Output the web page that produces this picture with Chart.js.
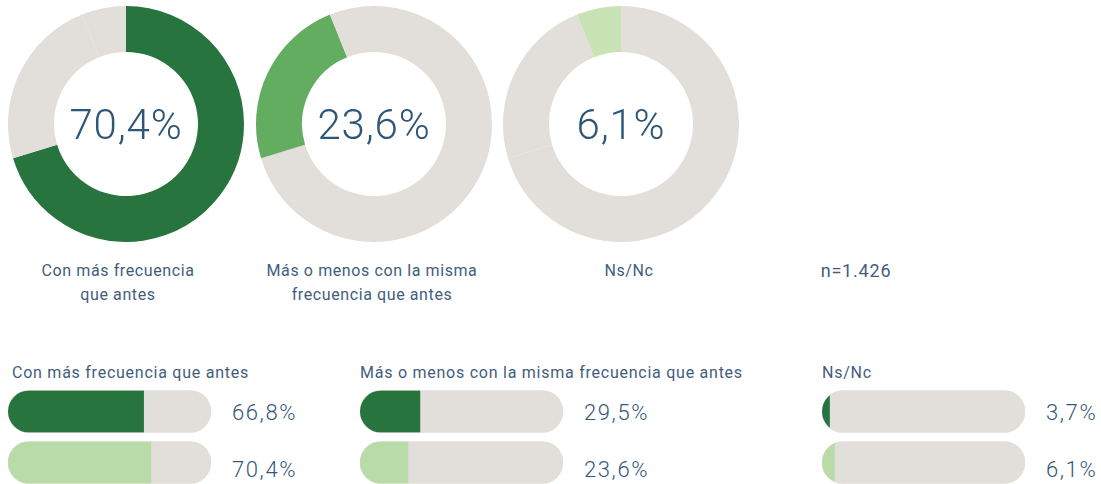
<!DOCTYPE html>
<html lang="es">
<head>
<meta charset="utf-8">
<title>Frecuencia</title>
<script src="https://cdn.jsdelivr.net/npm/chart.js@4/dist/chart.umd.min.js"></script>
<style>
  html, body { margin: 0; padding: 0; background: #fff; }
  body { position: relative; width: 1101px; height: 484px; overflow: hidden;
         font-family: Roboto, "Noto Sans", sans-serif; color: #3f5e7e; }
  .donut { position: absolute; top: 6px; width: 236px; height: 236px; }
  .center { position: absolute; width: 200px; text-align: center; font-size: 42px;
            line-height: 42px; font-weight: 300; color: #2d5679; top: 104px; letter-spacing: 0.8px; }
  .caption { position: absolute; width: 260px; text-align: center; font-size: 16px;
             line-height: 24px; top: 259px; letter-spacing: 0.6px; }
  .title { position: absolute; top: 361px; font-size: 16px; line-height: 24px; letter-spacing: 0.75px; }
  .bars { position: absolute; top: 386px; width: 203px; height: 102px; }
  .value { position: absolute; font-size: 22px; line-height: 22px; font-weight: 300;
           color: #35577a; letter-spacing: 1.6px; }
</style>
</head>
<body>
<script>
// Answer categories
const categories = ['Con más frecuencia que antes', 'Más o menos con la misma frecuencia que antes', 'Ns/Nc'];
const captionLines = [['Con más frecuencia', 'que antes'], ['Más o menos con la misma', 'frecuencia que antes'], ['Ns/Nc']];
// Current wave (%), shown in the rings and the light bars
const currentShares = [70.4, 23.6, 6.1];
// Previous wave (%), shown in the dark bars
const previousShares = [66.8, 29.5, 3.7];
const sampleSize = 'n=1.426';

const GRAY = '#e2dfdb';
const DARK = '#28743f';
const LIGHT = '#b8dba7';
const RING_COLORS = ['#28743f', '#63ad61', '#c9e3b4'];

const ringCenters = [126, 374, 621];
const captionCenters = [118, 372, 629];
const barLefts = [8, 360, 822];
const titleLefts = [12, 360, 822];

const fmt = v => v.toFixed(1).replace('.', ',') + '%';

function addDiv(cls, text, style) {
  const d = document.createElement('div');
  d.className = cls;
  if (Array.isArray(text)) d.innerHTML = text.join('<br>'); else d.textContent = text;
  Object.assign(d.style, style);
  document.body.appendChild(d);
  return d;
}

// Rings
categories.forEach((cat, i) => {
  const box = addDiv('donut', '', { left: (ringCenters[i] - 118) + 'px' });
  const cv = document.createElement('canvas');
  box.appendChild(cv);
  new Chart(cv, {
    type: 'doughnut',
    data: {
      labels: categories,
      datasets: [{
        data: currentShares,
        backgroundColor: currentShares.map((_, j) => j === i ? RING_COLORS[i] : GRAY),
        borderWidth: 0
      }]
    },
    options: {
      responsive: true, maintainAspectRatio: false, animation: false, events: [],
      cutout: '61%',
      plugins: { legend: { display: false }, tooltip: { enabled: false } }
    }
  });
  addDiv('center', fmt(currentShares[i]), { left: (ringCenters[i] - 100) + 'px' });
  addDiv('caption', captionLines[i], { left: (captionCenters[i] - 130) + 'px' });
});
addDiv('caption', sampleSize, { left: (856 - 130) + 'px', fontSize: '18px', letterSpacing: '0.8px' });

// Clip the filled bar to the rounded shape of its track
const trackClip = {
  id: 'trackClip',
  beforeDatasetDraw(chart, args) {
    if (args.index !== 0) return;
    const ctx = chart.ctx;
    ctx.save();
    ctx.beginPath();
    chart.getDatasetMeta(1).data.forEach(el => {
      const p = el.getProps(['x', 'y', 'base', 'height'], true);
      const left = Math.min(p.base, p.x);
      ctx.roundRect(left, p.y - p.height / 2, Math.abs(p.x - p.base), p.height, p.height / 2);
    });
    ctx.clip();
  },
  afterDatasetDraw(chart, args) {
    if (args.index === 0) chart.ctx.restore();
  }
};

// Comparison bars
categories.forEach((cat, i) => {
  addDiv('title', cat, { left: titleLefts[i] + 'px' });
  const box = addDiv('bars', '', { left: barLefts[i] + 'px' });
  const cv = document.createElement('canvas');
  box.appendChild(cv);
  new Chart(cv, {
    type: 'bar',
    data: {
      labels: ['anterior', 'actual'],
      datasets: [
        { data: [previousShares[i], currentShares[i]], backgroundColor: [DARK, LIGHT],
          grouped: false, barThickness: 42, borderWidth: 0 },
        { data: [100, 100], backgroundColor: GRAY, grouped: false, barThickness: 42,
          borderWidth: 0, borderRadius: 21, borderSkipped: false }
      ]
    },
    options: {
      indexAxis: 'y', responsive: true, maintainAspectRatio: false, animation: false, events: [],
      layout: { padding: 0 },
      scales: {
        x: { display: false, min: 0, max: 100 },
        y: { display: false }
      },
      plugins: { legend: { display: false }, tooltip: { enabled: false } }
    },
    plugins: [trackClip]
  });
  addDiv('value', fmt(previousShares[i]), { left: (barLefts[i] + 224) + 'px', top: '402px' });
  addDiv('value', fmt(currentShares[i]), { left: (barLefts[i] + 224) + 'px', top: '459px' });
});
</script>
</body>
</html>
